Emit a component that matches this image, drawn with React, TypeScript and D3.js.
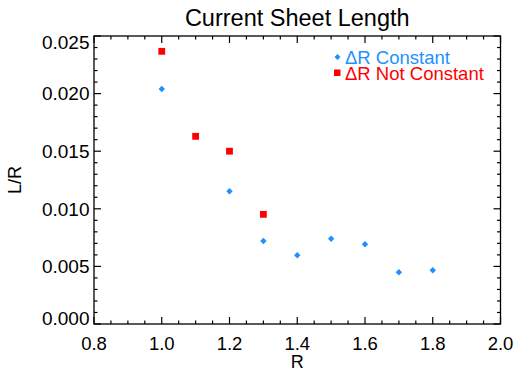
import React from "react";
import * as d3 from "d3";

const rConst = [1.0, 1.2, 1.3, 1.4, 1.5, 1.6, 1.7, 1.8];
const lrConst = [0.0204, 0.01152, 0.0072, 0.00597, 0.0074, 0.00692, 0.00449, 0.00466];
const rNot = [1.0, 1.1, 1.2, 1.3];
const lrNot = [0.02367, 0.01629, 0.015, 0.00952];
const xMajor = [0.8, 1.0, 1.2, 1.4, 1.6, 1.8, 2.0];
const yMajor = [0.0, 0.005, 0.01, 0.015, 0.02, 0.025];
const legendLabels = ["\u0394R Constant", "\u0394R Not Constant"];
const title = "Current Sheet Length";

const W = 515, H = 370;
const m = { left: 94, right: 500.5, top: 36, bottom: 324 };
const BLUE = "#1e90ff";
const RED = "#ff0000";
const FONT = "'Liberation Sans', Arial, Helvetica, sans-serif";

export default function App() {
  const x = d3.scaleLinear().domain([0.8, 2.0]).range([m.left, m.right]);
  const y = d3.scaleLinear().domain([0, 0.025]).range([m.bottom, m.top]);
  const xMinor = d3.range(0, 25).map((i) => 0.8 + i * 0.05).filter((v) => v < 2.0001);
  const yMinor = d3.range(0, 26).map((i) => i * 0.001);
  const diamond = (cx: number, cy: number, r: number) =>
    `M${cx},${cy - r}L${cx + r},${cy}L${cx},${cy + r}L${cx - r},${cy}Z`;
  const isMajorX = (v: number) => xMajor.some((t) => Math.abs(t - v) < 1e-6);
  const isMajorY = (v: number) => yMajor.some((t) => Math.abs(t - v) < 1e-7);
  const majorLen = 7, minorLen = 3.5;
  const ax = "#000";
  return (
    <svg width={W} height={H} style={{ position: "absolute", left: 0, top: 0, background: "#fff" }} fontFamily={FONT}>
      <rect x={0} y={0} width={W} height={H} fill="#fff" />
      <text x={(m.left + m.right) / 2} y={26} textAnchor="middle" fontSize={23.5} fill="#000">{title}</text>
      <rect x={m.left} y={m.top} width={m.right - m.left} height={m.bottom - m.top} fill="none" stroke={ax} strokeWidth={1.3} />
      {xMinor.map((v, i) => {
        const L = isMajorX(v) ? majorLen : minorLen;
        const px = x(v);
        return (
          <g key={"xt" + i}>
            <line x1={px} x2={px} y1={m.bottom} y2={m.bottom - L} stroke={ax} strokeWidth={1.2} />
            <line x1={px} x2={px} y1={m.top} y2={m.top + L} stroke={ax} strokeWidth={1.2} />
          </g>
        );
      })}
      {yMinor.map((v, i) => {
        const L = isMajorY(v) ? majorLen : minorLen;
        const py = y(v);
        return (
          <g key={"yt" + i}>
            <line x1={m.left} x2={m.left + L} y1={py} y2={py} stroke={ax} strokeWidth={1.2} />
            <line x1={m.right} x2={m.right - L} y1={py} y2={py} stroke={ax} strokeWidth={1.2} />
          </g>
        );
      })}
      {xMajor.map((v, i) => (
        <text key={"xl" + i} x={x(v)} y={349.5} textAnchor="middle" fontSize={18.5} fill="#000">{v.toFixed(1)}</text>
      ))}
      {yMajor.map((v, i) => {
        const off = i === 0 ? -6 : i === yMajor.length - 1 ? 6 : 0;
        return (
          <text key={"yl" + i} x={89.5} y={y(v) + off} dy="0.36em" textAnchor="end" fontSize={19} fill="#000">{v.toFixed(3)}</text>
        );
      })}
      <text x={x(1.4)} y={367.5} textAnchor="middle" fontSize={18} fill="#000">R</text>
      <text transform={`translate(21,${(m.top + m.bottom) / 2}) rotate(-90)`} textAnchor="middle" fontSize={18} fill="#000">L/R</text>
      {rConst.map((r, i) => (
        <path key={"c" + i} d={diamond(x(r), y(lrConst[i]), 3.2)} fill={BLUE} />
      ))}
      {rNot.map((r, i) => (
        <rect key={"n" + i} x={x(r) - 3.4} y={y(lrNot[i]) - 3.4} width={6.8} height={6.8} fill={RED} />
      ))}
      <path d={diamond(337.5, 57, 3)} fill={BLUE} />
      <rect x={334} y={69.5} width={6.5} height={6.5} fill={RED} />
      <text x={345} y={63.5} fontSize={18.5} fill={BLUE}>{legendLabels[0]}</text>
      <text x={345} y={79.5} fontSize={18.5} fill={RED}>{legendLabels[1]}</text>
    </svg>
  );
}
